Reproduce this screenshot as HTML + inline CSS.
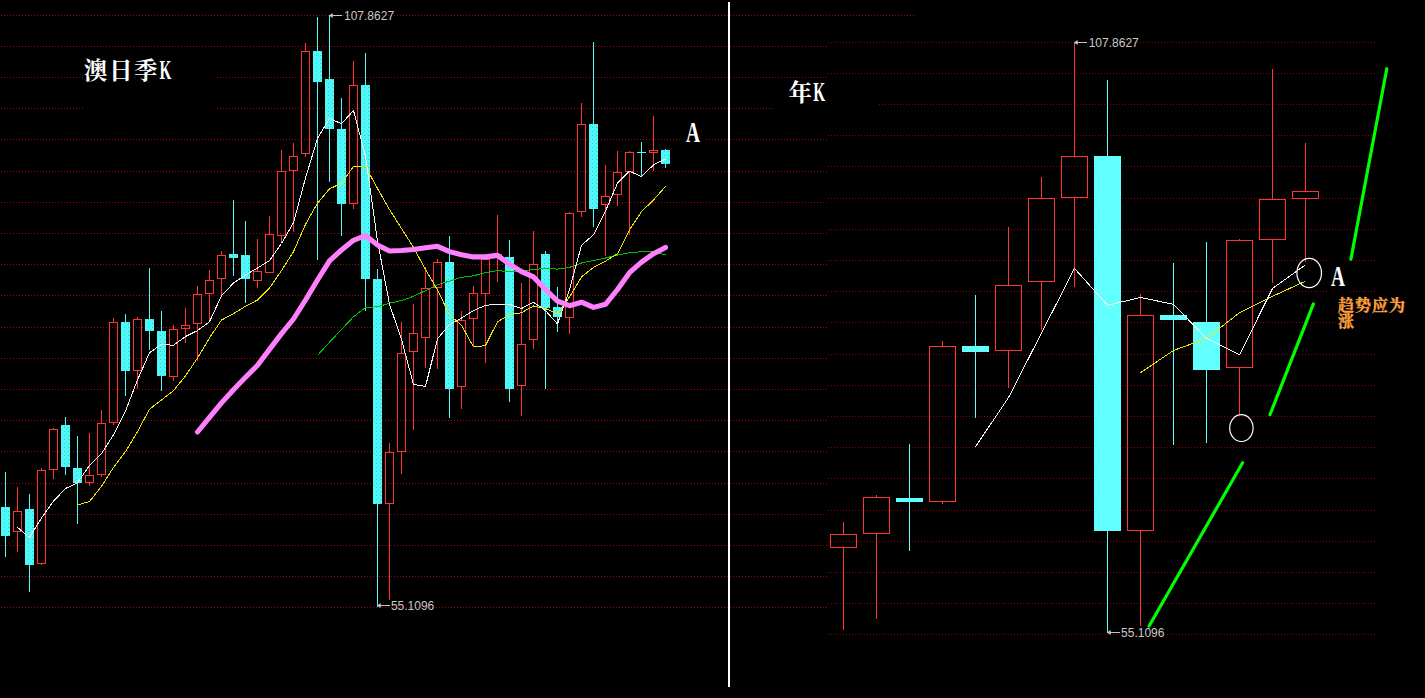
<!DOCTYPE html>
<html lang="zh"><head><meta charset="utf-8"><title>澳日季K / 年K</title>
<style>
html,body{margin:0;padding:0;background:#000}
body{width:1425px;height:698px;overflow:hidden;position:relative}
svg{position:absolute;left:0;top:0;display:block}
text{font-family:"Liberation Serif","Noto Serif CJK SC",serif}
.num{font-family:"Liberation Sans",sans-serif;font-size:12px;fill:#c8c8c8}
</style></head><body>
<svg width="1425" height="698" viewBox="0 0 1425 698">
<rect width="1425" height="698" fill="#000"/>
<defs><pattern id="cy" patternUnits="userSpaceOnUse" x="0" y="0" width="4" height="4"><rect width="4" height="4" fill="#4ef9f9"/><rect x="0" y="3" width="1" height="1" fill="#3cc4c8"/><rect x="2" y="1" width="1" height="1" fill="#46e6ea"/></pattern></defs>
<g stroke="#a60000" stroke-width="1" stroke-dasharray="1 2" shape-rendering="crispEdges">
<line x1="1" y1="15.5" x2="915" y2="15.5"/>
<line x1="1" y1="46.5" x2="827" y2="46.5"/>
<line x1="1" y1="77.5" x2="827" y2="77.5"/>
<line x1="1" y1="108.5" x2="827" y2="108.5"/>
<line x1="1" y1="139.5" x2="827" y2="139.5"/>
<line x1="1" y1="171.5" x2="827" y2="171.5"/>
<line x1="1" y1="202.5" x2="827" y2="202.5"/>
<line x1="1" y1="233.5" x2="827" y2="233.5"/>
<line x1="1" y1="264.5" x2="827" y2="264.5"/>
<line x1="1" y1="295.5" x2="827" y2="295.5"/>
<line x1="1" y1="327.5" x2="827" y2="327.5"/>
<line x1="1" y1="358.5" x2="827" y2="358.5"/>
<line x1="1" y1="389.5" x2="827" y2="389.5"/>
<line x1="1" y1="420.5" x2="827" y2="420.5"/>
<line x1="1" y1="451.5" x2="827" y2="451.5"/>
<line x1="1" y1="483.5" x2="827" y2="483.5"/>
<line x1="1" y1="514.5" x2="827" y2="514.5"/>
<line x1="1" y1="545.5" x2="827" y2="545.5"/>
<line x1="1" y1="576.5" x2="827" y2="576.5"/>
<line x1="1" y1="607.5" x2="827" y2="607.5"/>
</g>
<rect x="827" y="20" width="598" height="678" fill="#000"/>
<g stroke="#900000" stroke-width="1" stroke-dasharray="1 2" shape-rendering="crispEdges">
<line x1="828" y1="42.5" x2="1376" y2="42.5"/>
<line x1="828" y1="73.5" x2="1376" y2="73.5"/>
<line x1="828" y1="104.5" x2="1376" y2="104.5"/>
<line x1="828" y1="135.5" x2="1376" y2="135.5"/>
<line x1="828" y1="166.5" x2="1376" y2="166.5"/>
<line x1="828" y1="198.5" x2="1376" y2="198.5"/>
<line x1="828" y1="229.5" x2="1376" y2="229.5"/>
<line x1="828" y1="260.5" x2="1376" y2="260.5"/>
<line x1="828" y1="291.5" x2="1376" y2="291.5"/>
<line x1="828" y1="322.5" x2="1376" y2="322.5"/>
<line x1="828" y1="354.5" x2="1376" y2="354.5"/>
<line x1="828" y1="385.5" x2="1376" y2="385.5"/>
<line x1="828" y1="416.5" x2="1376" y2="416.5"/>
<line x1="828" y1="447.5" x2="1376" y2="447.5"/>
<line x1="828" y1="478.5" x2="1376" y2="478.5"/>
<line x1="828" y1="510.5" x2="1376" y2="510.5"/>
<line x1="828" y1="541.5" x2="1376" y2="541.5"/>
<line x1="828" y1="572.5" x2="1376" y2="572.5"/>
<line x1="828" y1="603.5" x2="1376" y2="603.5"/>
<line x1="828" y1="634.5" x2="1376" y2="634.5"/>
</g>
<rect x="83" y="50" width="134" height="80" fill="#000"/>
<rect x="773" y="80" width="105.5" height="50" fill="#000"/>
<rect x="680.5" y="112" width="25.5" height="56" fill="#000"/>
<rect x="1327.5" y="240" width="22" height="56" fill="#000"/>
<rect x="1337" y="296" width="88" height="40" fill="#000"/>
<g shape-rendering="crispEdges">
<line x1="5.5" y1="472" x2="5.5" y2="557" stroke="#4cf8f8"/><rect x="1" y="507" width="9" height="29" fill="url(#cy)"/>
<line x1="17.5" y1="487" x2="17.5" y2="511" stroke="#ff3535"/><line x1="17.5" y1="532" x2="17.5" y2="552" stroke="#ff3535"/><rect x="13.5" y="511.5" width="8" height="20" fill="none" stroke="#ff3535"/>
<line x1="29.5" y1="494" x2="29.5" y2="592" stroke="#4cf8f8"/><rect x="25" y="509" width="9" height="56" fill="url(#cy)"/>
<line x1="41.5" y1="468" x2="41.5" y2="470" stroke="#ff3535"/><line x1="41.5" y1="564" x2="41.5" y2="565" stroke="#ff3535"/><rect x="37.5" y="470.5" width="8" height="93" fill="none" stroke="#ff3535"/>
<line x1="53.5" y1="428" x2="53.5" y2="429" stroke="#ff3535"/><line x1="53.5" y1="470" x2="53.5" y2="479" stroke="#ff3535"/><rect x="49.5" y="429.5" width="8" height="40" fill="none" stroke="#ff3535"/>
<line x1="65.5" y1="417" x2="65.5" y2="475" stroke="#4cf8f8"/><rect x="61" y="425" width="9" height="42" fill="url(#cy)"/>
<line x1="77.5" y1="436" x2="77.5" y2="524" stroke="#4cf8f8"/><rect x="73" y="468" width="9" height="15" fill="url(#cy)"/>
<line x1="89.5" y1="433" x2="89.5" y2="475" stroke="#ff3535"/><line x1="89.5" y1="483" x2="89.5" y2="486" stroke="#ff3535"/><rect x="85.5" y="475.5" width="8" height="7" fill="none" stroke="#ff3535"/>
<line x1="101.5" y1="410" x2="101.5" y2="423" stroke="#ff3535"/><line x1="101.5" y1="475" x2="101.5" y2="477" stroke="#ff3535"/><rect x="97.5" y="423.5" width="8" height="51" fill="none" stroke="#ff3535"/>
<line x1="113.5" y1="318" x2="113.5" y2="322" stroke="#ff3535"/><line x1="113.5" y1="423" x2="113.5" y2="425" stroke="#ff3535"/><rect x="109.5" y="322.5" width="8" height="100" fill="none" stroke="#ff3535"/>
<line x1="125.5" y1="314" x2="125.5" y2="396" stroke="#4cf8f8"/><rect x="121" y="322" width="9" height="49" fill="url(#cy)"/>
<line x1="137.5" y1="317" x2="137.5" y2="319" stroke="#ff3535"/><line x1="137.5" y1="371" x2="137.5" y2="389" stroke="#ff3535"/><rect x="133.5" y="319.5" width="8" height="51" fill="none" stroke="#ff3535"/>
<line x1="149.5" y1="268" x2="149.5" y2="350" stroke="#4cf8f8"/><rect x="145" y="319" width="9" height="12" fill="url(#cy)"/>
<line x1="161.5" y1="311" x2="161.5" y2="391" stroke="#4cf8f8"/><rect x="157" y="331" width="9" height="45" fill="url(#cy)"/>
<line x1="173.5" y1="325" x2="173.5" y2="329" stroke="#ff3535"/><line x1="173.5" y1="377" x2="173.5" y2="381" stroke="#ff3535"/><rect x="169.5" y="329.5" width="8" height="47" fill="none" stroke="#ff3535"/>
<line x1="185.5" y1="308" x2="185.5" y2="325" stroke="#ff3535"/><line x1="185.5" y1="329" x2="185.5" y2="343" stroke="#ff3535"/><rect x="181.5" y="325.5" width="8" height="3" fill="none" stroke="#ff3535"/>
<line x1="197.5" y1="286" x2="197.5" y2="294" stroke="#ff3535"/><line x1="197.5" y1="324" x2="197.5" y2="361" stroke="#ff3535"/><rect x="193.5" y="294.5" width="8" height="29" fill="none" stroke="#ff3535"/>
<line x1="209.5" y1="270" x2="209.5" y2="280" stroke="#ff3535"/><line x1="209.5" y1="294" x2="209.5" y2="321" stroke="#ff3535"/><rect x="205.5" y="280.5" width="8" height="13" fill="none" stroke="#ff3535"/>
<line x1="221.5" y1="251" x2="221.5" y2="255" stroke="#ff3535"/><line x1="221.5" y1="279" x2="221.5" y2="296" stroke="#ff3535"/><rect x="217.5" y="255.5" width="8" height="23" fill="none" stroke="#ff3535"/>
<line x1="233.5" y1="200" x2="233.5" y2="276" stroke="#4cf8f8"/><rect x="229" y="254" width="9" height="4" fill="url(#cy)"/>
<line x1="245.5" y1="221" x2="245.5" y2="303" stroke="#4cf8f8"/><rect x="241" y="255" width="9" height="24" fill="url(#cy)"/>
<line x1="257.5" y1="239" x2="257.5" y2="271" stroke="#ff3535"/><line x1="257.5" y1="281" x2="257.5" y2="288" stroke="#ff3535"/><rect x="253.5" y="271.5" width="8" height="9" fill="none" stroke="#ff3535"/>
<line x1="269.5" y1="216" x2="269.5" y2="234" stroke="#ff3535"/><rect x="265.5" y="234.5" width="8" height="38" fill="none" stroke="#ff3535"/>
<line x1="281.5" y1="150" x2="281.5" y2="171" stroke="#ff3535"/><line x1="281.5" y1="236" x2="281.5" y2="243" stroke="#ff3535"/><rect x="277.5" y="171.5" width="8" height="64" fill="none" stroke="#ff3535"/>
<line x1="293.5" y1="143" x2="293.5" y2="156" stroke="#ff3535"/><line x1="293.5" y1="171" x2="293.5" y2="232" stroke="#ff3535"/><rect x="289.5" y="156.5" width="8" height="14" fill="none" stroke="#ff3535"/>
<line x1="305.5" y1="43" x2="305.5" y2="51" stroke="#ff3535"/><line x1="305.5" y1="154" x2="305.5" y2="157" stroke="#ff3535"/><rect x="301.5" y="51.5" width="8" height="102" fill="none" stroke="#ff3535"/>
<line x1="317.5" y1="17" x2="317.5" y2="260" stroke="#4cf8f8"/><rect x="313" y="51" width="9" height="31" fill="url(#cy)"/>
<line x1="329.5" y1="15" x2="329.5" y2="182" stroke="#4cf8f8"/><rect x="325" y="79" width="9" height="50" fill="url(#cy)"/>
<line x1="341.5" y1="98" x2="341.5" y2="236" stroke="#4cf8f8"/><rect x="337" y="129" width="9" height="75" fill="url(#cy)"/>
<line x1="353.5" y1="61" x2="353.5" y2="85" stroke="#ff3535"/><line x1="353.5" y1="204" x2="353.5" y2="209" stroke="#ff3535"/><rect x="349.5" y="85.5" width="8" height="118" fill="none" stroke="#ff3535"/>
<line x1="365.5" y1="53" x2="365.5" y2="311" stroke="#4cf8f8"/><rect x="361" y="85" width="9" height="194" fill="url(#cy)"/>
<line x1="377.5" y1="269" x2="377.5" y2="607" stroke="#4cf8f8"/><rect x="373" y="279" width="9" height="225" fill="url(#cy)"/>
<line x1="389.5" y1="443" x2="389.5" y2="452" stroke="#ff3535"/><line x1="389.5" y1="504" x2="389.5" y2="600" stroke="#ff3535"/><rect x="385.5" y="452.5" width="8" height="51" fill="none" stroke="#ff3535"/>
<line x1="401.5" y1="322" x2="401.5" y2="353" stroke="#ff3535"/><line x1="401.5" y1="452" x2="401.5" y2="474" stroke="#ff3535"/><rect x="397.5" y="353.5" width="8" height="98" fill="none" stroke="#ff3535"/>
<line x1="413.5" y1="304" x2="413.5" y2="333" stroke="#ff3535"/><line x1="413.5" y1="352" x2="413.5" y2="430" stroke="#ff3535"/><rect x="409.5" y="333.5" width="8" height="18" fill="none" stroke="#ff3535"/>
<line x1="425.5" y1="267" x2="425.5" y2="288" stroke="#ff3535"/><line x1="425.5" y1="338" x2="425.5" y2="368" stroke="#ff3535"/><rect x="421.5" y="288.5" width="8" height="49" fill="none" stroke="#ff3535"/>
<line x1="437.5" y1="259" x2="437.5" y2="262" stroke="#ff3535"/><line x1="437.5" y1="288" x2="437.5" y2="369" stroke="#ff3535"/><rect x="433.5" y="262.5" width="8" height="25" fill="none" stroke="#ff3535"/>
<line x1="449.5" y1="236" x2="449.5" y2="418" stroke="#4cf8f8"/><rect x="445" y="262" width="9" height="127" fill="url(#cy)"/>
<line x1="461.5" y1="311" x2="461.5" y2="320" stroke="#ff3535"/><line x1="461.5" y1="387" x2="461.5" y2="409" stroke="#ff3535"/><rect x="457.5" y="320.5" width="8" height="66" fill="none" stroke="#ff3535"/>
<line x1="473.5" y1="286" x2="473.5" y2="293" stroke="#ff3535"/><line x1="473.5" y1="319" x2="473.5" y2="346" stroke="#ff3535"/><rect x="469.5" y="293.5" width="8" height="25" fill="none" stroke="#ff3535"/>
<line x1="485.5" y1="294" x2="485.5" y2="363" stroke="#ff3535"/><rect x="481.5" y="259.5" width="8" height="34" fill="none" stroke="#ff3535"/>
<line x1="497.5" y1="215" x2="497.5" y2="254" stroke="#ff3535"/><line x1="497.5" y1="258" x2="497.5" y2="282" stroke="#ff3535"/><rect x="493.5" y="254.5" width="8" height="3" fill="none" stroke="#ff3535"/>
<line x1="509.5" y1="240" x2="509.5" y2="402" stroke="#4cf8f8"/><rect x="505" y="257" width="9" height="132" fill="url(#cy)"/>
<line x1="521.5" y1="283" x2="521.5" y2="344" stroke="#ff3535"/><line x1="521.5" y1="386" x2="521.5" y2="416" stroke="#ff3535"/><rect x="517.5" y="344.5" width="8" height="41" fill="none" stroke="#ff3535"/>
<line x1="533.5" y1="231" x2="533.5" y2="264" stroke="#ff3535"/><line x1="533.5" y1="340" x2="533.5" y2="349" stroke="#ff3535"/><rect x="529.5" y="264.5" width="8" height="75" fill="none" stroke="#ff3535"/>
<line x1="545.5" y1="251" x2="545.5" y2="389" stroke="#4cf8f8"/><rect x="541" y="254" width="9" height="54" fill="url(#cy)"/>
<line x1="557.5" y1="287" x2="557.5" y2="332" stroke="#4cf8f8"/><rect x="553" y="307" width="9" height="10" fill="url(#cy)"/>
<line x1="569.5" y1="212" x2="569.5" y2="213" stroke="#ff3535"/><line x1="569.5" y1="318" x2="569.5" y2="334" stroke="#ff3535"/><rect x="565.5" y="213.5" width="8" height="104" fill="none" stroke="#ff3535"/>
<line x1="581.5" y1="103" x2="581.5" y2="124" stroke="#ff3535"/><line x1="581.5" y1="212" x2="581.5" y2="217" stroke="#ff3535"/><rect x="577.5" y="124.5" width="8" height="87" fill="none" stroke="#ff3535"/>
<line x1="593.5" y1="42" x2="593.5" y2="227" stroke="#4cf8f8"/><rect x="589" y="124" width="9" height="85" fill="url(#cy)"/>
<line x1="605.5" y1="165" x2="605.5" y2="196" stroke="#ff3535"/><line x1="605.5" y1="205" x2="605.5" y2="256" stroke="#ff3535"/><rect x="601.5" y="196.5" width="8" height="8" fill="none" stroke="#ff3535"/>
<line x1="617.5" y1="151" x2="617.5" y2="172" stroke="#ff3535"/><line x1="617.5" y1="195" x2="617.5" y2="206" stroke="#ff3535"/><rect x="613.5" y="172.5" width="8" height="22" fill="none" stroke="#ff3535"/>
<line x1="629.5" y1="151" x2="629.5" y2="152" stroke="#ff3535"/><line x1="629.5" y1="172" x2="629.5" y2="235" stroke="#ff3535"/><rect x="625.5" y="152.5" width="8" height="19" fill="none" stroke="#ff3535"/>
<line x1="641.5" y1="142" x2="641.5" y2="176" stroke="#4cf8f8"/><rect x="637" y="152" width="9" height="1" fill="url(#cy)"/>
<line x1="653.5" y1="116" x2="653.5" y2="150" stroke="#ff3535"/><line x1="653.5" y1="153" x2="653.5" y2="171" stroke="#ff3535"/><rect x="649.5" y="150.5" width="8" height="2" fill="none" stroke="#ff3535"/>
<line x1="665.5" y1="149" x2="665.5" y2="168" stroke="#4cf8f8"/><rect x="661" y="150" width="9" height="14" fill="url(#cy)"/>
</g>
<g shape-rendering="crispEdges">
<line x1="843.5" y1="522" x2="843.5" y2="534" stroke="#ff3535"/><line x1="843.5" y1="548" x2="843.5" y2="630" stroke="#ff3535"/><rect x="830.5" y="534.5" width="26" height="13" fill="none" stroke="#ff3535"/>
<line x1="876.5" y1="495" x2="876.5" y2="497" stroke="#ff3535"/><line x1="876.5" y1="534" x2="876.5" y2="619" stroke="#ff3535"/><rect x="863.5" y="497.5" width="26" height="36" fill="none" stroke="#ff3535"/>
<line x1="909.5" y1="444" x2="909.5" y2="551" stroke="#62ffff"/><rect x="896" y="498" width="27" height="4" fill="#62ffff"/>
<line x1="942.5" y1="341" x2="942.5" y2="346" stroke="#ff3535"/><line x1="942.5" y1="502" x2="942.5" y2="504" stroke="#ff3535"/><rect x="929.5" y="346.5" width="26" height="155" fill="none" stroke="#ff3535"/>
<line x1="975.5" y1="295" x2="975.5" y2="418" stroke="#62ffff"/><rect x="962" y="346" width="27" height="6" fill="#62ffff"/>
<line x1="1008.5" y1="227" x2="1008.5" y2="285" stroke="#ff3535"/><line x1="1008.5" y1="351" x2="1008.5" y2="388" stroke="#ff3535"/><rect x="995.5" y="285.5" width="26" height="65" fill="none" stroke="#ff3535"/>
<line x1="1041.5" y1="177" x2="1041.5" y2="198" stroke="#ff3535"/><line x1="1041.5" y1="282" x2="1041.5" y2="330" stroke="#ff3535"/><rect x="1028.5" y="198.5" width="26" height="83" fill="none" stroke="#ff3535"/>
<line x1="1074.5" y1="42" x2="1074.5" y2="156" stroke="#ff3535"/><line x1="1074.5" y1="198" x2="1074.5" y2="287" stroke="#ff3535"/><rect x="1061.5" y="156.5" width="26" height="41" fill="none" stroke="#ff3535"/>
<line x1="1107.5" y1="80" x2="1107.5" y2="633" stroke="#62ffff"/><rect x="1094" y="156" width="27" height="375" fill="#62ffff"/>
<line x1="1140.5" y1="294" x2="1140.5" y2="315" stroke="#ff3535"/><line x1="1140.5" y1="531" x2="1140.5" y2="626" stroke="#ff3535"/><rect x="1127.5" y="315.5" width="26" height="215" fill="none" stroke="#ff3535"/>
<line x1="1173.5" y1="263" x2="1173.5" y2="445" stroke="#62ffff"/><rect x="1160" y="315" width="27" height="5" fill="#62ffff"/>
<line x1="1206.5" y1="242" x2="1206.5" y2="443" stroke="#62ffff"/><rect x="1193" y="322" width="27" height="48" fill="#62ffff"/>
<line x1="1239.5" y1="239" x2="1239.5" y2="240" stroke="#ff3535"/><line x1="1239.5" y1="368" x2="1239.5" y2="414" stroke="#ff3535"/><rect x="1226.5" y="240.5" width="26" height="127" fill="none" stroke="#ff3535"/>
<line x1="1272.5" y1="69" x2="1272.5" y2="199" stroke="#ff3535"/><line x1="1272.5" y1="240" x2="1272.5" y2="283" stroke="#ff3535"/><rect x="1259.5" y="199.5" width="26" height="40" fill="none" stroke="#ff3535"/>
<line x1="1305.5" y1="143" x2="1305.5" y2="191" stroke="#ff3535"/><line x1="1305.5" y1="199" x2="1305.5" y2="262" stroke="#ff3535"/><rect x="1292.5" y="191.5" width="26" height="7" fill="none" stroke="#ff3535"/>
</g>
<polyline points="317.5,355.4 329.5,342.2 341.5,329.5 353.5,316.7 365.5,307.5 377.5,306.8 389.5,303.2 401.5,300.5 413.5,296.3 425.5,290.6 437.5,284.7 449.5,281.1 461.5,277.3 473.5,275.8 485.5,272.7 497.5,270.6 509.5,271.6 521.5,271.0 533.5,269.5 545.5,268.5 557.5,269.1 569.5,267.4 581.5,263.0 593.5,260.6 605.5,258.0 617.5,255.0 629.5,252.7 641.5,251.7 653.5,251.7 665.5,254.8" fill="none" stroke="#00c000" stroke-width="1" stroke-linejoin="round" shape-rendering="crispEdges"/>
<polyline points="77.5,504.9 89.5,501.5 101.5,486.4 113.5,467.4 125.5,451.6 137.5,431.6 149.5,409.2 161.5,400.0 173.5,390.6 185.5,375.9 197.5,358.0 209.5,337.9 221.5,320.0 233.5,313.7 245.5,306.3 257.5,300.0 269.5,288.0 281.5,270.6 293.5,251.7 305.5,224.3 317.5,203.2 329.5,188.9 341.5,183.2 353.5,166.4 365.5,166.4 377.5,188.5 389.5,209.5 401.5,228.5 413.5,247.4 425.5,269.5 437.5,290.0 449.5,314.8 461.5,325.3 473.5,347.0 485.5,345.6 497.5,321.7 509.5,314.8 521.5,312.7 533.5,306.0 545.5,308.5 557.5,314.2 569.5,296.9 581.5,276.9 593.5,267.4 605.5,261.1 617.5,253.7 629.5,229.8 641.5,211.6 653.5,200.0 665.5,186.4" fill="none" stroke="#f0e400" stroke-width="1" stroke-linejoin="round" shape-rendering="crispEdges"/>
<polyline points="17.5,527.4 29.5,537.3 41.5,518.0 53.5,501.1 65.5,488.5 77.5,482.8 89.5,465.3 101.5,453.7 113.5,434.8 125.5,411.0 137.5,380.0 149.5,352.7 161.5,344.3 173.5,345.3 185.5,336.5 197.5,330.6 209.5,321.7 221.5,295.8 233.5,283.0 245.5,275.0 257.5,268.0 269.5,260.5 281.5,243.5 293.5,222.7 305.5,178.0 317.5,138.5 329.5,118.5 341.5,123.7 353.5,110.5 365.5,156.4 377.5,241.0 389.5,304.3 401.5,339.4 413.5,384.4 425.5,386.5 437.5,338.7 449.5,324.7 461.5,318.0 473.5,310.6 485.5,305.3 497.5,304.3 509.5,304.3 521.5,308.5 533.5,302.2 545.5,310.6 557.5,323.9 569.5,289.5 581.5,245.3 593.5,234.8 605.5,211.0 617.5,183.2 629.5,171.2 641.5,176.5 653.5,164.9 665.5,159.0" fill="none" stroke="#f4f4f4" stroke-width="1" stroke-linejoin="round" shape-rendering="crispEdges"/>
<polyline points="197.5,432.0 209.5,417.4 221.5,402.9 233.5,389.7 245.5,377.3 257.5,365.3 269.5,349.4 281.5,333.6 293.5,319.0 305.5,300.0 317.5,280.0 329.5,260.8 341.5,250.0 353.5,240.3 365.5,235.5 377.5,245.0 389.5,251.0 401.5,250.5 413.5,249.5 425.5,247.8 437.5,246.3 449.5,251.6 461.5,254.8 473.5,256.9 485.5,256.9 497.5,255.4 509.5,264.2 521.5,271.6 533.5,276.9 545.5,289.5 557.5,301.1 569.5,305.7 581.5,302.2 593.5,307.4 605.5,304.3 617.5,289.5 629.5,272.7 641.5,262.1 653.5,253.7 665.5,247.4" fill="none" stroke="#ff80ff" stroke-width="5.1" stroke-linejoin="round" stroke-linecap="round"/>
<polyline points="1140.5,372.7 1173.5,350.5 1206.5,338.4 1239.5,312.7 1272.5,296.3 1304.8,281.5" fill="none" stroke="#f0e400" stroke-width="1" stroke-linejoin="round" shape-rendering="crispEdges"/>
<polyline points="975.5,446.8 1008.5,397.6 1041.5,333.0 1074.5,268.4 1107.5,305.3 1140.5,297.5 1173.5,304.3 1206.5,338.4 1239.5,354.8 1272.5,288.5 1304.8,265.3" fill="none" stroke="#f4f4f4" stroke-width="1" stroke-linejoin="round" shape-rendering="crispEdges"/>
<ellipse cx="1309.2" cy="273" rx="12.3" ry="14.6" fill="none" stroke="#fff" stroke-width="1.2"/>
<ellipse cx="1241.4" cy="428.1" rx="11.7" ry="13.4" fill="none" stroke="#fff" stroke-width="1.2"/>
<line x1="1386.8" y1="68.7" x2="1350.9" y2="259.2" stroke="#00ff00" stroke-width="3.2" stroke-linecap="round"/>
<line x1="1313.4" y1="303.9" x2="1270.0" y2="414.7" stroke="#00ff00" stroke-width="3.2" stroke-linecap="round"/>
<line x1="1242.6" y1="462.8" x2="1149.1" y2="626.0" stroke="#00ff00" stroke-width="3.2" stroke-linecap="round"/>
<rect x="728" y="2" width="2" height="685" fill="#fff"/>
<g stroke="#c8c8c8" stroke-width="1" fill="none"><line x1="329.5" y1="15.5" x2="342.0" y2="15.5"/><polygon points="332.7,12.9 328.9,15.5 332.7,18.1" fill="#c8c8c8" stroke="none"/></g>
<text class="num" x="344.0" y="20">107.8627</text>
<g stroke="#c8c8c8" stroke-width="1" fill="none"><line x1="377.5" y1="605.5" x2="390.0" y2="605.5"/><polygon points="380.7,602.9 376.9,605.5 380.7,608.1" fill="#c8c8c8" stroke="none"/></g>
<text class="num" x="390.9" y="610">55.1096</text>
<g stroke="#c8c8c8" stroke-width="1" fill="none"><line x1="1074.5" y1="42.5" x2="1087.0" y2="42.5"/><polygon points="1077.7,39.9 1073.9,42.5 1077.7,45.1" fill="#c8c8c8" stroke="none"/></g>
<text class="num" x="1088.7" y="47.3">107.8627</text>
<g stroke="#c8c8c8" stroke-width="1" fill="none"><line x1="1107.5" y1="632.5" x2="1120.0" y2="632.5"/><polygon points="1110.7,629.9 1106.9,632.5 1110.7,635.1" fill="#c8c8c8" stroke="none"/></g>
<text class="num" x="1121.1" y="637.3">55.1096</text>
<text x="84" y="78.5" font-size="23.5" font-weight="bold" fill="#fff" letter-spacing="1.5">澳日季<tspan font-size="26.5" dx="0.6" textLength="12.7" lengthAdjust="spacingAndGlyphs">K</tspan></text>
<text x="788.5" y="101.3" font-size="23.5" font-weight="bold" fill="#fff" letter-spacing="1.3">年<tspan font-size="26.5" textLength="12.7" lengthAdjust="spacingAndGlyphs">K</tspan></text>
<text x="686" y="142" font-size="28.5" font-weight="bold" fill="#fff" textLength="14" lengthAdjust="spacingAndGlyphs">A</text>
<text x="1331" y="286" font-size="28.5" font-weight="bold" fill="#fff" textLength="14" lengthAdjust="spacingAndGlyphs">A</text>
<text x="1338" y="311" font-size="16" font-weight="bold" fill="#ffa040" stroke="#ffa040" stroke-width="0.35" letter-spacing="1">趋势应为</text>
<text x="1338" y="327" font-size="16" font-weight="bold" fill="#ffa040" stroke="#ffa040" stroke-width="0.35">涨</text>
</svg>
</body></html>
